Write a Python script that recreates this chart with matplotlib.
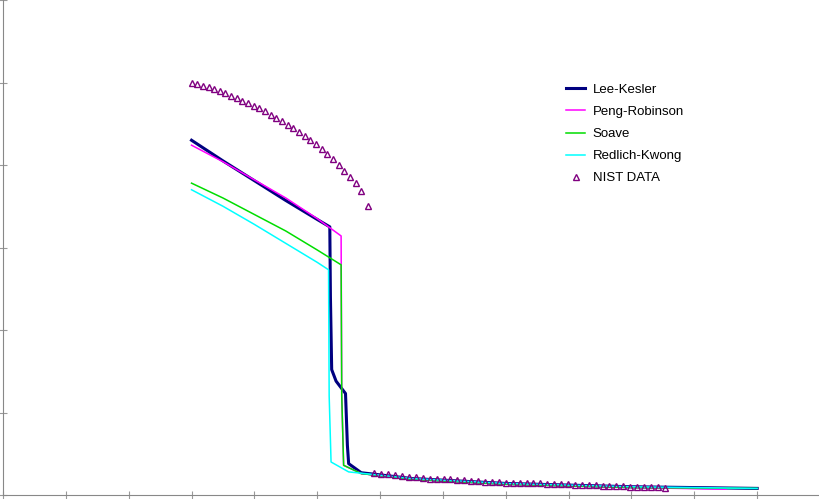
import matplotlib
matplotlib.use("Agg")
import matplotlib.pyplot as plt

plt.rcParams["font.family"] = ["Liberation Sans", "DejaVu Sans"]

# Lee-Kesler
lk_x = [3.0, 3.5, 4.0, 4.5, 5.0, 5.2, 5.21, 5.23, 5.3, 5.45, 5.48, 5.5, 5.7, 6.5, 8.0, 10.0, 12.0]
lk_y = [4.30, 4.05, 3.81, 3.57, 3.34, 3.25, 2.4, 1.52, 1.38, 1.23, 0.6, 0.38, 0.27, 0.20, 0.14, 0.10, 0.08]
# Peng-Robinson
pr_x = [3.0, 3.5, 4.0, 4.5, 5.0, 5.38, 5.39, 5.42, 5.7, 6.5, 8.0, 10.0, 11.5]
pr_y = [4.24, 4.04, 3.82, 3.60, 3.35, 3.14, 1.2, 0.36, 0.26, 0.19, 0.13, 0.09, 0.07]
# Soave
so_x = [3.0, 3.5, 4.0, 4.5, 5.0, 5.38, 5.39, 5.42, 5.7, 6.5, 8.0, 10.0, 12.0]
so_y = [3.78, 3.60, 3.40, 3.20, 2.97, 2.79, 1.2, 0.36, 0.26, 0.19, 0.13, 0.09, 0.08]
# Redlich-Kwong
rk_x = [3.0, 3.5, 4.0, 4.5, 5.0, 5.18, 5.19, 5.22, 5.5, 6.5, 8.0, 10.0, 12.0]
rk_y = [3.70, 3.50, 3.28, 3.05, 2.82, 2.73, 1.2, 0.40, 0.28, 0.20, 0.14, 0.10, 0.08]
# NIST data
nist_x = [3.00, 3.09, 3.18, 3.27, 3.36, 3.45, 3.54, 3.63, 3.72, 3.81, 3.90, 3.99, 4.08,
          4.17, 4.26, 4.35, 4.44, 4.53, 4.62, 4.71, 4.80, 4.89, 4.98, 5.07, 5.16, 5.25,
          5.34, 5.43, 5.52, 5.61, 5.70, 5.81,
          5.91, 6.02, 6.13, 6.24, 6.35, 6.46, 6.57, 6.68, 6.79, 6.90, 7.01, 7.12, 7.23,
          7.34, 7.45, 7.56, 7.67, 7.78, 7.89, 8.00, 8.11, 8.22, 8.33, 8.44, 8.55, 8.66,
          8.77, 8.88, 8.99, 9.10, 9.21, 9.32, 9.43, 9.54, 9.65, 9.76, 9.87, 9.98, 10.09,
          10.20, 10.31, 10.42, 10.53]
nist_y = [5.00, 4.98, 4.96, 4.94, 4.92, 4.90, 4.87, 4.84, 4.81, 4.78, 4.75, 4.72, 4.69,
          4.65, 4.61, 4.57, 4.53, 4.49, 4.45, 4.40, 4.35, 4.30, 4.25, 4.19, 4.13, 4.07,
          4.00, 3.93, 3.86, 3.78, 3.69, 3.50,
          0.27, 0.26, 0.25, 0.24, 0.23, 0.22, 0.22, 0.21, 0.20, 0.20, 0.19, 0.19, 0.18,
          0.18, 0.17, 0.17, 0.16, 0.16, 0.16, 0.15, 0.15, 0.15, 0.14, 0.14, 0.14, 0.13,
          0.13, 0.13, 0.13, 0.12, 0.12, 0.12, 0.12, 0.11, 0.11, 0.11, 0.11, 0.10, 0.10,
          0.10, 0.10, 0.10, 0.09]

fig = plt.figure(figsize=(8.2, 4.99), dpi=100)
ax = fig.add_axes([3 / 820, 4 / 499, 817 / 820, 495 / 499])
ax.plot(lk_x, lk_y, color="#000080", lw=2.2, label="Lee-Kesler")
ax.plot(pr_x, pr_y, color="#ff00ff", lw=1.1, label="Peng-Robinson")
ax.plot(so_x, so_y, color="#00dd00", lw=1.1, label="Soave")
ax.plot(rk_x, rk_y, color="#00ffff", lw=1.1, label="Redlich-Kwong")
ax.plot(nist_x, nist_y, ls="none", marker="^", mfc="none", mec="#800080",
        ms=5, mew=1, label="NIST DATA")
ax.set_xlim(0, 13.0)
ax.set_ylim(0, 6.0)
ax.set_xticks(range(0, 13))
ax.set_yticks(range(0, 7))
ax.set_xticklabels([])
ax.set_yticklabels([])
ax.tick_params(direction="inout", length=6, color="#999999")
for s in ("top", "right"):
    ax.spines[s].set_visible(False)
for s in ("left", "bottom"):
    ax.spines[s].set_color("#888888")
ax.legend(loc="upper left", bbox_to_anchor=(0.675, 0.855), frameon=False,
          fontsize=9.5, handlelength=1.4, handletextpad=0.6, labelspacing=0.75)
fig.savefig("out.png")
